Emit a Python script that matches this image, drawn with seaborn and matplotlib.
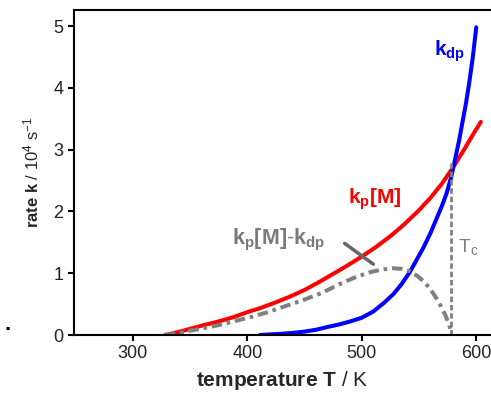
import pandas as pd
import matplotlib.pyplot as plt
import seaborn as sns

# values
T_prop = [328, 340, 350, 362, 375, 388, 400, 412, 425, 437, 450, 462, 475, 487,
          500, 512, 525, 537, 550, 560, 570, 580, 590, 597, 604]
k_prop = [0.0, 0.05, 0.10, 0.16, 0.22, 0.29, 0.37, 0.44, 0.53, 0.62, 0.73, 0.85, 0.99, 1.12,
          1.27, 1.42, 1.60, 1.79, 2.02, 2.22, 2.45, 2.72, 3.02, 3.24, 3.45]

T_depr = [411, 420, 430, 440, 450, 460, 470, 480, 490, 500, 510, 520, 528, 535, 542,
          548, 554, 560, 565, 570, 574, 578, 581, 585, 588, 591, 594, 597, 600]
k_depr = [0.0, 0.01, 0.02, 0.035, 0.055, 0.085, 0.13, 0.17, 0.22, 0.28, 0.38, 0.53, 0.67, 0.83, 1.02,
          1.22, 1.42, 1.65, 1.87, 2.09, 2.29, 2.55, 2.80, 3.15, 3.45, 3.75, 4.10, 4.50, 4.98]

T_diff = [328, 340, 350, 362, 375, 390, 403, 418, 432, 448, 465, 480, 495, 508, 518,
          527, 535, 542, 549, 555, 560, 565, 569, 573, 576, 578]
k_diff = [0.0, 0.03, 0.07, 0.11, 0.16, 0.23, 0.29, 0.37, 0.46, 0.56, 0.68, 0.82, 0.94, 1.02, 1.06,
          1.08, 1.07, 1.03, 0.95, 0.85, 0.74, 0.60, 0.47, 0.32, 0.18, 0.06]

T_c = 578
k_c = 2.78

sns.set_style("ticks")
plt.rcParams['font.family'] = ['Liberation Sans', 'DejaVu Sans']
plt.rcParams['mathtext.fontset'] = 'custom'
plt.rcParams['mathtext.rm'] = 'Liberation Sans'
plt.rcParams['mathtext.bf'] = 'Liberation Sans:bold'
plt.rcParams['mathtext.it'] = 'Liberation Sans:italic'

fig = plt.figure(figsize=(4.91, 4.03), dpi=100)
ax = fig.add_axes([74 / 491, 1 - 335 / 403, 416 / 491, 325 / 403])

df_p = pd.DataFrame({'T': T_prop, 'k': k_prop})
df_d = pd.DataFrame({'T': T_depr, 'k': k_depr})
df_x = pd.DataFrame({'T': T_diff, 'k': k_diff})

sns.lineplot(data=df_p, x='T', y='k', color='#ff0000', lw=2.9, ax=ax)
sns.lineplot(data=df_d, x='T', y='k', color='#0000ff', lw=2.9, ax=ax)
sns.lineplot(data=df_x, x='T', y='k', color='#808080', lw=2.9, ax=ax)
ax.lines[-1].set_dashes([2.6, 1.2, 0.9, 1.2])
ax.plot([T_c, T_c], [0, k_c], color='#808080', lw=2.0, dashes=[2.0, 1.0])

ax.set_xlim(248.5, 612)
ax.set_ylim(0, 5.26)
ax.set_xticks([300, 400, 500, 600])
ax.set_yticks([0, 1, 2, 3, 4, 5])
ax.tick_params(labelsize=13, width=1.5, length=4, color='black', labelcolor='#222222')
for s in ['left', 'bottom', 'top']:
    ax.spines[s].set_linewidth(1.5)
    ax.spines[s].set_color('black')
ax.spines['right'].set_visible(False)

ax.set_xlabel(r'$\mathbf{temperature\ T}$ / K', fontsize=15, labelpad=5)
ax.set_ylabel(r'$\mathbf{rate\ k}$ / 10$^{4}$ s$^{-1}$', fontsize=12, labelpad=9)

ax.text(577, 4.6, r'$\mathbf{k_{dp}}$', color='#0000ff', fontsize=15, ha='center', va='center')
ax.text(511, 2.2, r'$\mathbf{k_{p}[M]}$', color='#ff0000', fontsize=15, ha='center', va='center')
ax.text(427, 1.54, r'$\mathbf{k_{p}[M]\text{-}k_{dp}}$', color='#7a7a7a', fontsize=15.5,
        ha='center', va='center')
ax.text(593, 1.42, r'T$_\mathrm{c}$', color='#808080', fontsize=14, ha='center', va='center')
ax.annotate('', xy=(512, 1.12), xytext=(483, 1.51),
            arrowprops=dict(arrowstyle='-', color='#666666', lw=2.5))

fig.text(0.01, 0.18, '.', fontsize=16, fontweight='bold', color='black')

fig.savefig('out.png', dpi=100)
